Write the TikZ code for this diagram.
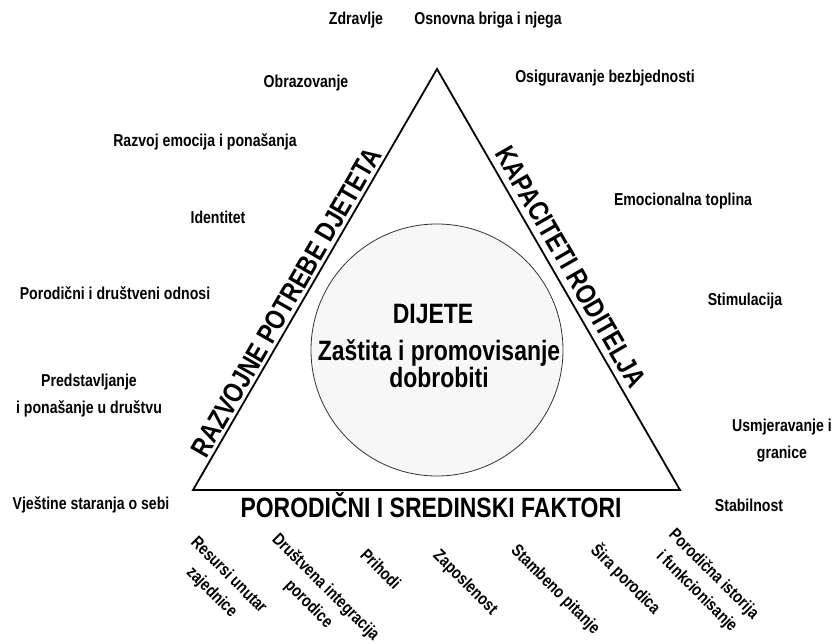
\documentclass[tikz,border=0pt]{standalone}
\usepackage{fontspec}
\setmainfont{Liberation Sans}
\newfontfamily\labfont[FakeStretch=0.82]{Liberation Sans}
\newfontfamily\headfont[FakeStretch=0.82]{Liberation Sans}
\usetikzlibrary{calc}
\begin{document}
\begin{tikzpicture}[x=1pt,y=-1pt,
  lab/.style={font=\labfont\bfseries\fontsize{17.2}{27}\selectfont, inner sep=0pt, align=center},
  blab/.style={font=\labfont\bfseries\fontsize{17.2}{24}\selectfont, inner sep=0pt, align=center, rotate=-45},
  head/.style={font=\headfont\bfseries\fontsize{28}{30}\selectfont, inner sep=0pt}
  ]
\useasboundingbox (0,0) rectangle (833,644);
\fill[white] (0,0) rectangle (833,644);
\coordinate (A) at (437,69);
\coordinate (BL) at (193,490);
\coordinate (BR) at (680,490);
\node[circle, draw=black!80, line width=0.8pt, fill=black!3, minimum size=252pt, inner sep=0pt] (child) at (437,350) {};
\draw[line width=1.8pt, line join=miter] (A) -- (BL) -- (BR) -- cycle;

\node[head, rotate=60, anchor=south] (devneeds) at ($(BL)!0.43!(A) + (-3,-1.7)$) {RAZVOJNE POTREBE DJETETA};
\node[head, rotate=-60, anchor=south] (parcap) at ($(A)!0.49!(BR) + (6,-3.5)$) {KAPACITETI RODITELJA};
\node[head, anchor=base] (envfac) at (431,517) {PORODIČNI I SREDINSKI FAKTORI};

\node[head, anchor=base] (cname) at (433,324) {DIJETE};
\node[head, anchor=base] (cgoal) at (439,361) {Zaštita i promovisanje};
\node[head, anchor=base] (cgoal2) at (439,388) {dobrobiti};

\node[lab] (zdr) at (356,20) {Zdravlje};
\node[lab] (osn) at (488,20) {Osnovna briga i njega};
\node[lab] (obr) at (306,83) {Obrazovanje};
\node[lab] (osi) at (605,78) {Osiguravanje bezbjednosti};
\node[lab] (raz) at (205,142) {Razvoj emocija i ponašanja};
\node[lab] (ide) at (218,217) {Identitet};
\node[lab] (emo) at (683,201) {Emocionalna toplina};
\node[lab] (por) at (115,293) {Porodični i društveni odnosi};
\node[lab] (stim) at (745,301) {Stimulacija};
\node[lab] (pred) at (89,396) {Predstavljanje\\i ponašanje u društvu};
\node[lab] (usm) at (782,441) {Usmjeravanje i\\granice};
\node[lab] (vje) at (91,505) {Vještine staranja o sebi};
\node[lab] (stab) at (749,505) {Stabilnost};

\node[blab] (res) at (220,584) {Resursi unutar\\zajednice};
\node[blab] (dru) at (317,596) {Društvena integracija\\porodice};
\node[blab] (pri) at (381,569) {Prihodi};
\node[blab] (zap) at (465,583) {Zaposlenost};
\node[blab] (sta) at (555,590) {Stambeno pitanje};
\node[blab] (sir) at (626,579) {Šira porodica};
\node[blab] (ist) at (705,583) {Porodična istorija\\i funkcionisanje};
\end{tikzpicture}
\end{document}
